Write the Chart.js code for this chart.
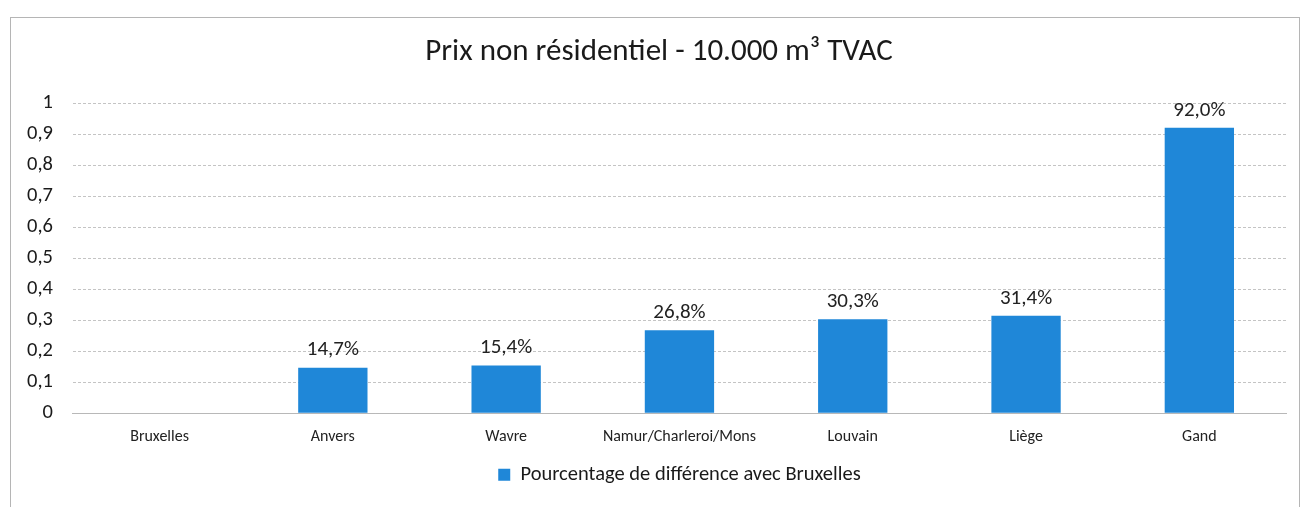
<!DOCTYPE html>
<html>
<head>
<meta charset="utf-8">
<script src="https://cdn.jsdelivr.net/npm/chart.js@4"></script>
<style>
  body { margin: 0; background: #fff; }
  #wrap { position: relative; width: 1312px; height: 507px; }
  #frame { position: absolute; left: 10px; top: 17px; width: 1290px; height: 500px; border: 1px solid #b5b5b5; box-sizing: border-box; }
  canvas { position: absolute; left: 0; top: 0; }
</style>
</head>
<body>
<div id="wrap">
  <div id="frame"></div>
  <canvas id="prix" width="1312" height="507"></canvas>
</div>
<script>
var titre = "Prix non résidentiel - 10.000 m³ TVAC";
var villes = ["Bruxelles", "Anvers", "Wavre", "Namur/Charleroi/Mons", "Louvain", "Liège", "Gand"];
var ecarts = [0, 0.147, 0.154, 0.268, 0.303, 0.314, 0.92];
var etiquettes = ["", "14,7%", "15,4%", "26,8%", "30,3%", "31,4%", "92,0%"];
var yTicks = [0, 0.1, 0.2, 0.3, 0.4, 0.5, 0.6, 0.7, 0.8, 0.9, 1];

var police = "Carlito, 'Open Sans', sans-serif";
var bleu = "#1f87d8";

// title (drawn by hand so it can sit on the page centre) and labels above the bars
var labelPlugin = {
    id: "barLabels",
    afterDraw: function (chart) {
        var ctx = chart.ctx;
        ctx.save();
        ctx.font = "31px " + police;
        ctx.fillStyle = "#1a1a1a";
        ctx.textAlign = "center";
        ctx.textBaseline = "middle";
        ctx.fillText(titre, chart.width / 2 + 3, 52);
        ctx.restore();
    },
    afterDatasetsDraw: function (chart) {
        var ctx = chart.ctx;
        var meta = chart.getDatasetMeta(0);
        ctx.save();
        ctx.font = "21px " + police;
        ctx.fillStyle = "#222";
        ctx.textAlign = "center";
        ctx.textBaseline = "bottom";
        meta.data.forEach(function (bar, i) {
            if (etiquettes[i] !== "") {
                ctx.fillText(etiquettes[i], bar.x, bar.y - 7);
            }
        });
        ctx.restore();
    }
};

var prixChart = new Chart(document.getElementById("prix"), {
    type: "bar",
    data: {
        labels: villes,
        datasets: [{
            label: "Pourcentage de différence avec Bruxelles",
            data: ecarts,
            backgroundColor: bleu,
            categoryPercentage: 1,
            barPercentage: 0.40
        }]
    },
    options: {
        responsive: false,
        animation: false,
        layout: { padding: { left: 7, right: 26, top: 103, bottom: 12 } },
        plugins: {
            title: { display: false },
            legend: {
                position: "bottom",
                fullSize: false,
                labels: {
                    color: "#1a1a1a",
                    font: { family: police, size: 20.5 },
                    boxWidth: 12,
                    boxHeight: 12,
                    padding: 12
                }
            },
            tooltip: { enabled: false }
        },
        scales: {
            x: {
                grid: { display: false },
                border: { color: "#b8b8b8" },
                ticks: {
                    color: "#222",
                    font: { family: police, size: 16 },
                    padding: 6,
                    maxRotation: 0
                }
            },
            y: {
                min: 0,
                max: 1,
                afterBuildTicks: function (axis) {
                    axis.ticks = yTicks.map(function (v) { return { value: v }; });
                },
                grid: { color: "#c4c4c4", drawTicks: false },
                border: { display: false, dash: [3, 2] },
                ticks: {
                    color: "#1a1a1a",
                    font: { family: police, size: 20.5 },
                    padding: 20,
                    callback: function (v) {
                        return String(Math.round(v * 10) / 10).replace(".", ",");
                    }
                }
            }
        }
    },
    plugins: [labelPlugin]
});
</script>
</body>
</html>
